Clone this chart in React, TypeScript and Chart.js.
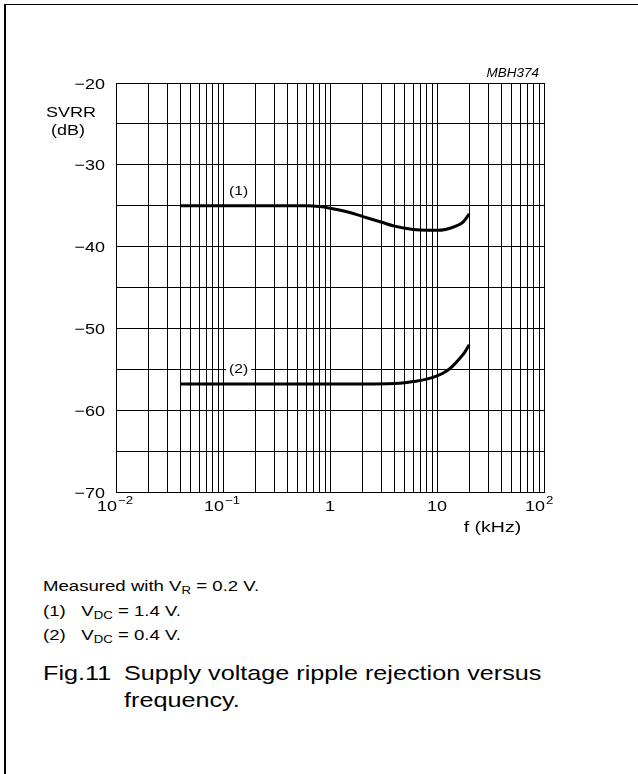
import React, { useEffect, useRef } from 'react';
import { Chart, registerables } from 'chart.js';

Chart.register(...registerables);

// Curve (1): VDC = 1.4 V
const freq1 = [0.04, 0.1, 0.2, 0.4, 0.6, 0.8, 1, 1.5, 2, 3, 4, 6, 8, 10, 12, 15, 17.5, 20];
const svrr1 = [-35, -35, -35, -35, -35, -35.1, -35.3, -35.8, -36.3, -37.0, -37.5, -37.9, -38.0, -38.0, -37.9, -37.5, -37.0, -36.0];

// Curve (2): VDC = 0.4 V
const freq2 = [0.04, 0.1, 0.5, 1, 2, 4, 5, 6, 8, 10, 12, 14, 16, 18, 20];
const svrr2 = [-56.8, -56.8, -56.8, -56.8, -56.8, -56.75, -56.65, -56.5, -56.2, -55.8, -55.3, -54.6, -53.8, -53.0, -52.0];

const xGrid = [
  0.01, 0.02, 0.03, 0.04, 0.05, 0.06, 0.07, 0.08, 0.09,
  0.1, 0.2, 0.3, 0.4, 0.5, 0.6, 0.7, 0.8, 0.9,
  1, 2, 3, 4, 5, 6, 7, 8, 9,
  10, 20, 30, 40, 50, 60, 70, 80, 90,
  100,
];
const xDecades = [0.01, 0.1, 1, 10, 100];
const xDecadeBase = ['10', '10', '1', '10', '10'];
const xDecadeExp = ['\u22122', '\u22121', '', '', '2'];

const yMin = -70;
const yMax = -20;
const yStep = 5;
const yLabelValues = [-20, -30, -40, -50, -60, -70];

const curveLabels = ['(1)', '(2)'];
const curveLabelX = [0.14, 0.14];
const curveLabelY = [-33.3, -55];

const FONT = '"Liberation Sans", Arial, Helvetica, sans-serif';
const SX = 1.2;

function drawStretched(
  ctx: CanvasRenderingContext2D,
  text: string,
  x: number,
  y: number,
  align: 'left' | 'right' | 'center',
  sx: number,
) {
  const w = ctx.measureText(text).width * sx;
  let left = x;
  if (align === 'right') left = x - w;
  if (align === 'center') left = x - w / 2;
  ctx.save();
  ctx.translate(left, y);
  ctx.scale(sx, 1);
  ctx.textAlign = 'left';
  ctx.fillText(text, 0, 0);
  ctx.restore();
  return w;
}

const textPlugin = {
  id: 'textPlugin',
  afterDraw(chart: any) {
    const ctx = chart.ctx as CanvasRenderingContext2D;
    const xs = chart.scales.x;
    const ys = chart.scales.y;
    const area = chart.chartArea;
    ctx.save();
    ctx.fillStyle = '#000';
    ctx.textBaseline = 'alphabetic';

    // y tick labels
    ctx.font = `15px ${FONT}`;
    yLabelValues.forEach((v) => {
      const py = ys.getPixelForValue(v);
      drawStretched(ctx, '\u2212' + Math.abs(v), area.left - 11, py + 5.5, 'right', SX);
    });

    // x decade labels with superscripts
    xDecades.forEach((v, i) => {
      const px = xs.getPixelForValue(v);
      const base = xDecadeBase[i];
      const exp = xDecadeExp[i];
      const baseY = area.bottom + 19;
      ctx.font = `15px ${FONT}`;
      if (exp) {
        const wb = drawStretched(ctx, base, px + 1, baseY, 'right', SX);
        ctx.font = `11px ${FONT}`;
        drawStretched(ctx, exp, px + 2, baseY - 7, 'left', SX);
        void wb;
      } else {
        drawStretched(ctx, base, px, baseY, 'center', SX);
      }
    });

    // x axis title
    ctx.font = `15px ${FONT}`;
    drawStretched(ctx, 'f (kHz)', xs.getPixelForValue(33), area.bottom + 40, 'center', 1.3);

    // y axis title
    drawStretched(ctx, 'SVRR', area.left - 45, area.top + 34, 'center', SX);
    drawStretched(ctx, '(dB)', area.left - 48, area.top + 52, 'center', SX);

    // figure code
    ctx.font = `italic 13.5px ${FONT}`;
    ctx.textAlign = 'right';
    ctx.fillText('MBH374', area.right - 5, area.top - 6);

    // curve labels
    ctx.font = `13px ${FONT}`;
    ctx.textBaseline = 'middle';
    curveLabels.forEach((t, i) => {
      const px = xs.getPixelForValue(curveLabelX[i]);
      const py = ys.getPixelForValue(curveLabelY[i]);
      const w = ctx.measureText(t).width * SX;
      if (i === 1) {
        ctx.fillStyle = '#fff';
        ctx.fillRect(px - w / 2 - 3, py - 7, w + 6, 14);
        ctx.fillStyle = '#000';
      }
      drawStretched(ctx, t, px, py, 'center', SX);
    });
    ctx.restore();
  },
};

export default function App() {
  const ref = useRef<HTMLCanvasElement>(null);

  useEffect(() => {
    if (!ref.current) return;
    const chart = new Chart(ref.current, {
      type: 'line',
      data: {
        datasets: [
          {
            label: '(1)',
            data: freq1.map((f, i) => ({ x: f, y: svrr1[i] })),
            borderColor: '#000',
            borderWidth: 3,
            pointRadius: 0,
            fill: false,
            cubicInterpolationMode: 'monotone',
          },
          {
            label: '(2)',
            data: freq2.map((f, i) => ({ x: f, y: svrr2[i] })),
            borderColor: '#000',
            borderWidth: 3,
            pointRadius: 0,
            fill: false,
            cubicInterpolationMode: 'monotone',
          },
        ],
      },
      options: {
        responsive: false,
        animation: false,
        devicePixelRatio: 1,
        layout: { padding: { top: 83, right: 94, left: 0, bottom: 0 } },
        plugins: {
          legend: { display: false },
          tooltip: { enabled: false },
          title: { display: false },
        },
        scales: {
          x: {
            type: 'logarithmic',
            min: 0.01,
            max: 100,
            afterBuildTicks: (scale: any) => {
              scale.ticks = xGrid.map((v) => ({ value: v }));
            },
            afterFit: (scale: any) => {
              scale.height = 68;
            },
            ticks: { display: false },
            grid: { color: '#000', lineWidth: 1, drawTicks: false },
            border: { display: true, color: '#000', width: 1 },
          },
          y: {
            type: 'linear',
            min: yMin,
            max: yMax,
            afterFit: (scale: any) => {
              scale.width = 116;
            },
            ticks: { stepSize: yStep, display: false },
            grid: { color: '#000', lineWidth: 1, drawTicks: false },
            border: { display: true, color: '#000', width: 1 },
          },
        },
      },
      plugins: [textPlugin],
    });
    return () => chart.destroy();
  }, []);

  const noteStyle: React.CSSProperties = {
    position: 'absolute',
    left: 43,
    fontFamily: FONT,
    fontSize: 15.5,
    lineHeight: '18px',
    color: '#000',
    whiteSpace: 'nowrap',
    transform: `scaleX(${SX})`,
    transformOrigin: 'left center',
  };
  const sub: React.CSSProperties = { fontSize: 11, verticalAlign: '-3px', lineHeight: 0 };
  const capStyle: React.CSSProperties = {
    position: 'absolute',
    fontFamily: FONT,
    fontSize: 21,
    lineHeight: '27px',
    color: '#000',
    whiteSpace: 'nowrap',
    transform: `scaleX(${SX})`,
    transformOrigin: 'left center',
  };

  return (
    <div style={{ position: 'fixed', left: 0, top: 0, width: 638, height: 774, background: '#fff', overflow: 'hidden' }}>
      <div
        style={{
          position: 'absolute',
          left: 4,
          top: 4,
          right: -10,
          bottom: -10,
          borderLeft: '2px solid #000',
          borderTop: '1px solid #000',
        }}
      />
      <canvas ref={ref} width={638} height={560} style={{ position: 'absolute', left: 0, top: 0, width: 638, height: 560 }} />
      <div style={{ ...noteStyle, top: 577 }}>
        Measured with V<span style={sub}>R</span> = 0.2 V.
      </div>
      <div style={{ ...noteStyle, top: 602 }}>
        (1)&nbsp;&nbsp;&nbsp;V<span style={sub}>DC</span> = 1.4 V.
      </div>
      <div style={{ ...noteStyle, top: 626 }}>
        (2)&nbsp;&nbsp;&nbsp;V<span style={sub}>DC</span> = 0.4 V.
      </div>
      <div style={{ ...capStyle, left: 43, top: 659 }}>Fig.11</div>
      <div style={{ ...capStyle, left: 124, top: 659 }}>
        Supply voltage ripple rejection versus
        <br />
        frequency.
      </div>
    </div>
  );
}
